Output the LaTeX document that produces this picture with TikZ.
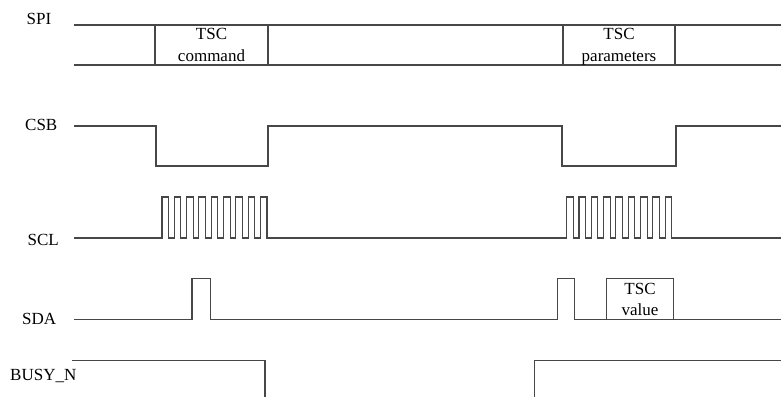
\documentclass[tikz,border=0pt]{standalone}
\usepackage{fontspec}
\setmainfont{Liberation Serif}
\begin{document}
\begin{tikzpicture}[x=1pt,y=-1pt,
  wave/.style={draw=black!72, line width=1.1pt, line join=miter},
  lbl/.style={anchor=base west, inner sep=0pt, font=\fontsize{17}{20}\selectfont},
  btxt/.style={anchor=base, inner sep=0pt, font=\fontsize{17}{20}\selectfont}]
\useasboundingbox (0,0) rectangle (781,396);

% labels
\node[lbl] (lspi) at (26.5,25) {SPI};
\node[lbl] (lcsb) at (25,130) {CSB};
\node[lbl] (lscl) at (27.5,245) {SCL};
\node[lbl] (lsda) at (22,324) {SDA};
\node[lbl] (lbusy) at (10,380) {BUSY\_N};

% SPI bus
\draw[wave] (74,25) -- (781,25);
\draw[wave] (74,65) -- (781,65);
\draw[wave] (155,25) -- (155,65);
\draw[wave] (268,25) -- (268,65);
\draw[wave] (563,25) -- (563,65);
\draw[wave] (675,25) -- (675,65);
\node[btxt] (cmd1) at (211.5,40) {TSC};
\node[btxt] (cmd2) at (211.5,61) {command};
\node[btxt] (par1) at (619,40) {TSC};
\node[btxt] (par2) at (619,61) {parameters};

% CSB
\draw[wave] (74,126) -- (156,126) -- (156,166) -- (268,166) -- (268,126)
  -- (562,126) -- (562,166) -- (676,166) -- (676,126) -- (781,126);

% SCL
\def\hw{6.6}
\def\lw{5.7}
\draw[wave] (74,238) -- (162,238)
  \foreach \i in {0,...,8} {
    -- ++(0,-41) -- ++(\hw,0) -- ++(0,41)
    \ifnum\i<8 -- ++(\lw,0)\fi
  }
  -- (566.7,238)
  \foreach \i in {0,...,8} {
    -- ++(0,-41) -- ++(\hw,0) -- ++(0,41)
    \ifnum\i<8 -- ++(\lw,0)\fi
  }
  -- (781,238);

% SDA
\draw[wave] (74,319.5) -- (192,319.5) -- (192,278.7) -- (210.3,278.7) -- (210.3,319.5)
  -- (557.3,319.5) -- (557.3,278.7) -- (574.3,278.7) -- (574.3,319.5) -- (781,319.5);
\draw[wave] (606.7,319.5) -- (606.7,278.7) -- (673.3,278.7) -- (673.3,319.5);
\node[btxt] (val1) at (640,294.5) {TSC};
\node[btxt] (val2) at (640,315) {value};

% BUSY_N
\draw[wave] (72,360.3) -- (265,360.3) -- (265,397);
\draw[wave] (534.7,397) -- (534.7,360.3) -- (781,360.3);
\end{tikzpicture}
\end{document}
